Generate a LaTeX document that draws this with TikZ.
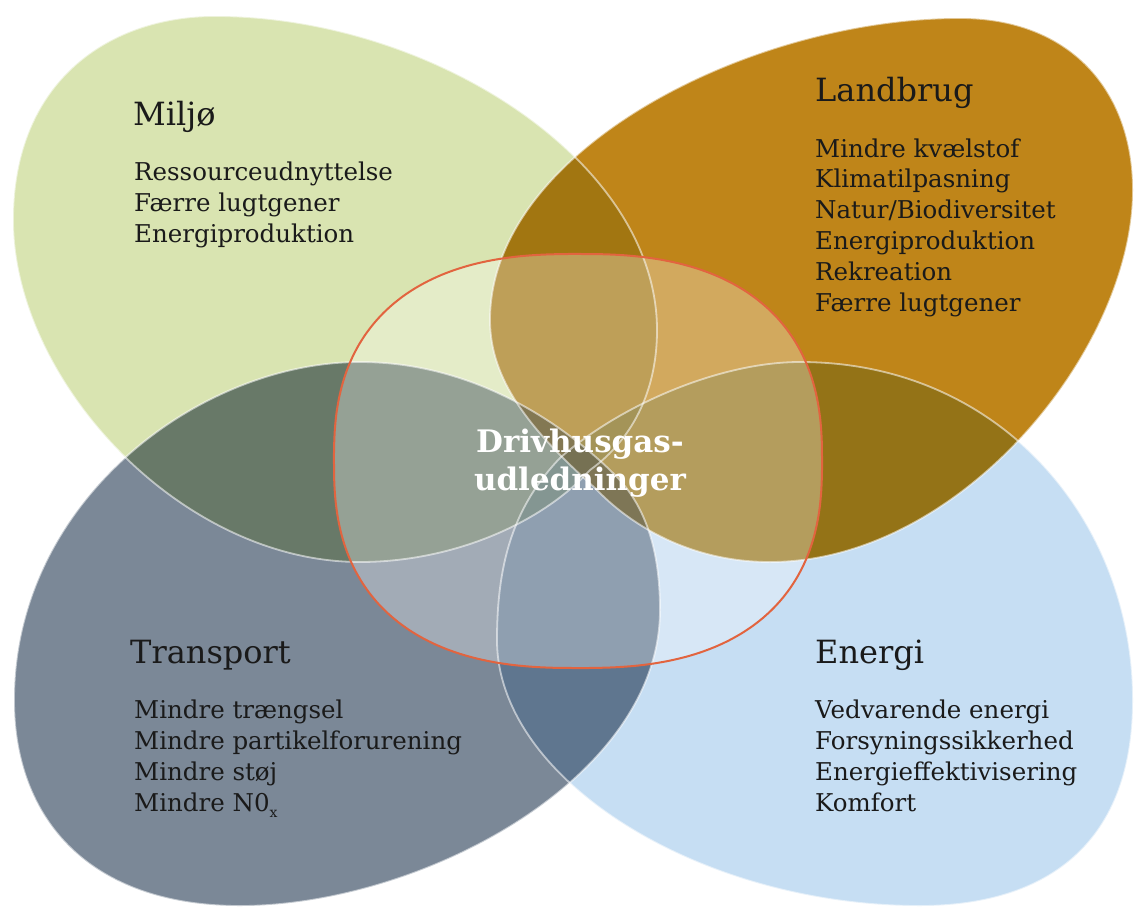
\documentclass[tikz,border=0pt]{standalone}
\usepackage{fontspec}
\setmainfont{DejaVu Serif}
\definecolor{miljo}{RGB}{217,228,177}
\definecolor{landbrug}{RGB}{191,133,25}
\definecolor{transport}{RGB}{123,136,151}
\definecolor{energi}{RGB}{198,222,243}
\definecolor{hubred}{RGB}{226,100,63}
\definecolor{ink}{RGB}{26,26,26}

\begin{document}
\begin{tikzpicture}[x=1pt, y=-1pt,
 rim/.style={draw=white, draw opacity=0.55, line width=1.8pt},
 hub/.style={fill=white, fill opacity=0.3, draw=hubred, line width=2pt},
 head/.style={anchor=base west, inner sep=0pt, text=ink, font=\fontsize{32}{40}\selectfont},
 items/.style={anchor=base west, inner sep=0pt, text=ink, align=left, font=\fontsize{24.5}{30.8}\selectfont},
 hubtext/.style={anchor=base, inner sep=0pt, text=white, align=center, font=\bfseries\fontsize{31}{38}\selectfont}]

 \useasboundingbox (0,0) rectangle (1135,908);

 % the four fields
 \path[save path=\miljoshape] (215,16) .. controls (430,16) and (657,160) .. (657,330)
  .. controls (657,400) and (625,445) .. (590,470)
  .. controls (540,525) and (450,562) .. (360,562)
  .. controls (180,562) and (13,380) .. (13,220)
  .. controls (13,80) and (110,16) .. cycle;
 \path[save path=\landbrugshape] (960,18) .. controls (1070,18) and (1133,90) .. (1133,190)
  .. controls (1133,350) and (960,562) .. (770,562)
  .. controls (690,562) and (630,525) .. (595,488)
  .. controls (530,430) and (490,380) .. (490,320)
  .. controls (490,150) and (750,18) .. cycle;
 \path[save path=\transportshape] (360,362) .. controls (470,362) and (560,420) .. (615,475)
  .. controls (650,510) and (660,560) .. (660,610)
  .. controls (660,780) and (420,906) .. (240,906)
  .. controls (90,906) and (14,820) .. (14,700)
  .. controls (14,500) and (200,362) .. cycle;
 \path[save path=\energishape] (800,362) .. controls (1000,362) and (1133,520) .. (1133,700)
  .. controls (1133,850) and (1040,906) .. (920,906)
  .. controls (700,906) and (497,780) .. (497,640)
  .. controls (497,560) and (515,505) .. (560,458)
  .. controls (620,405) and (720,362) .. cycle;

 \begin{scope}[blend group=multiply]
  \fill[miljo, use path=\miljoshape];
  \fill[landbrug, use path=\landbrugshape];
  \fill[transport, use path=\transportshape];
  \fill[energi, use path=\energishape];
 \end{scope}
 \draw[rim, use path=\miljoshape];
 \draw[rim, use path=\landbrugshape];
 \draw[rim, use path=\transportshape];
 \draw[rim, use path=\energishape];

 % centre field
 \draw[hub] plot[domain=1:357, samples=90, smooth cycle, variable=\t]
  ({578+244*sign(cos(\t))*abs(cos(\t))^0.8}, {461+207*sign(sin(\t))*abs(sin(\t))^0.8});
 \node[hubtext] (hubtitle) at (580,490) {Drivhusgas-\\udledninger};

 % headings and lists
 \node[head] (miljo) at (133,125) {Miljø};
 \node[items] (miljolist) at (134,242) {Ressourceudnyttelse\\Færre lugtgener\\Energiproduktion};

 \node[head] (landbrug) at (815,101) {Landbrug};
 \node[items] (landbruglist) at (815,311) {Mindre kvælstof\\Klimatilpasning\\Natur/Biodiversitet\\Energiproduktion\\Rekreation\\Færre lugtgener};

 \node[head] (transport) at (130,663) {Transport};
 \node[items] (transportlist) at (134,811) {Mindre trængsel\\Mindre partikelforurening\\Mindre støj\\Mindre N0\raisebox{-6pt}{\fontsize{14}{14}\selectfont x}};

 \node[head] (energi) at (815,663) {Energi};
 \node[items] (energilist) at (815,811) {Vedvarende energi\\Forsyningssikkerhed\\Energieffektivisering\\Komfort};
\end{tikzpicture}
\end{document}
